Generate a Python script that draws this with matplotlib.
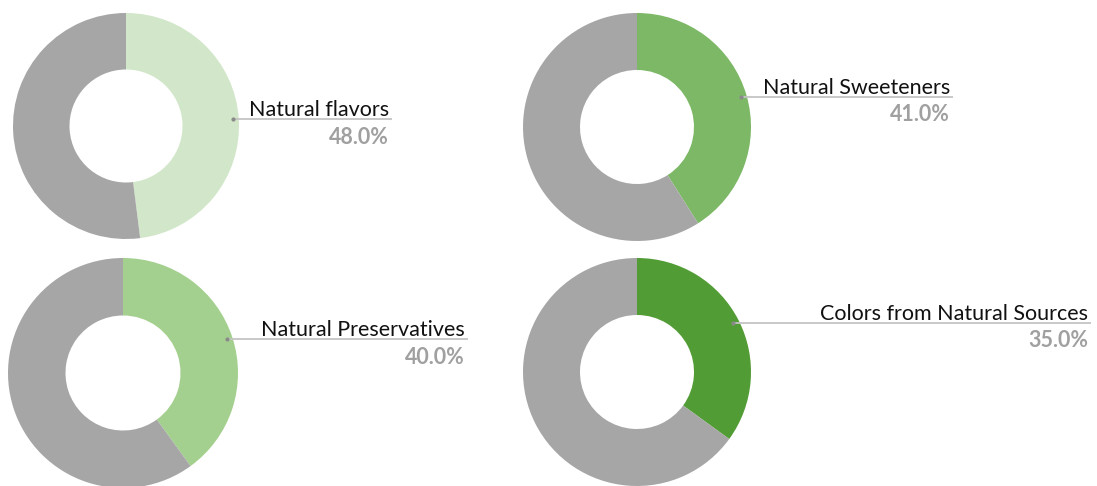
import numpy as np
import matplotlib
matplotlib.use("Agg")
import matplotlib.pyplot as plt

# data
labels = ["Natural flavors", "Natural Sweeteners", "Natural Preservatives", "Colors from Natural Sources"]
shares = [48.0, 41.0, 40.0, 35.0]
colors = ["#d2e7c9", "#7cb865", "#a4d08f", "#529c35"]
rest_color = "#a6a6a6"

# layout (pixels, y upward) - centre, radius, right end of the label line
centres = [(126, 360), (637, 359), (123, 113), (637, 114)]
radii = [113, 114, 115, 114]
label_right = [392, 953, 468, 1091]

W, H = 1097, 486
fig = plt.figure(figsize=(W / 100, H / 100), dpi=100)
ax = fig.add_axes([0, 0, 1, 1])

for lab, val, col, c, r, xr in zip(labels, shares, colors, centres, radii, label_right):
    wedges, _ = ax.pie([val, 100 - val], colors=[col, rest_color], startangle=90,
                       counterclock=False, center=c, radius=r,
                       wedgeprops=dict(width=r * 0.5, linewidth=0))
    w = wedges[0]
    mid = np.deg2rad((w.theta1 + w.theta2) / 2)
    x0 = c[0] + 0.95 * r * np.cos(mid)
    y0 = c[1] + 0.95 * r * np.sin(mid)
    ax.plot([x0, xr], [y0, y0], color="#c4c4c4", lw=1.3, solid_capstyle="butt")
    ax.plot([x0], [y0], marker="o", ms=2, color="#8a8a8a")
    ax.text(xr - 3, y0 + 3, lab, ha="right", va="baseline", fontsize=15.5,
            family="Lato", color="#111111")
    ax.text(xr - 3, y0 - 18, f"{val:.1f}%", ha="right", va="center", fontsize=15.5,
            family="Lato", fontweight="bold", color="#a0a0a0")

ax.set_xlim(0, W)
ax.set_ylim(0, H)
ax.set_aspect("equal")
ax.set_axis_off()
fig.savefig("out.png", dpi=100)
